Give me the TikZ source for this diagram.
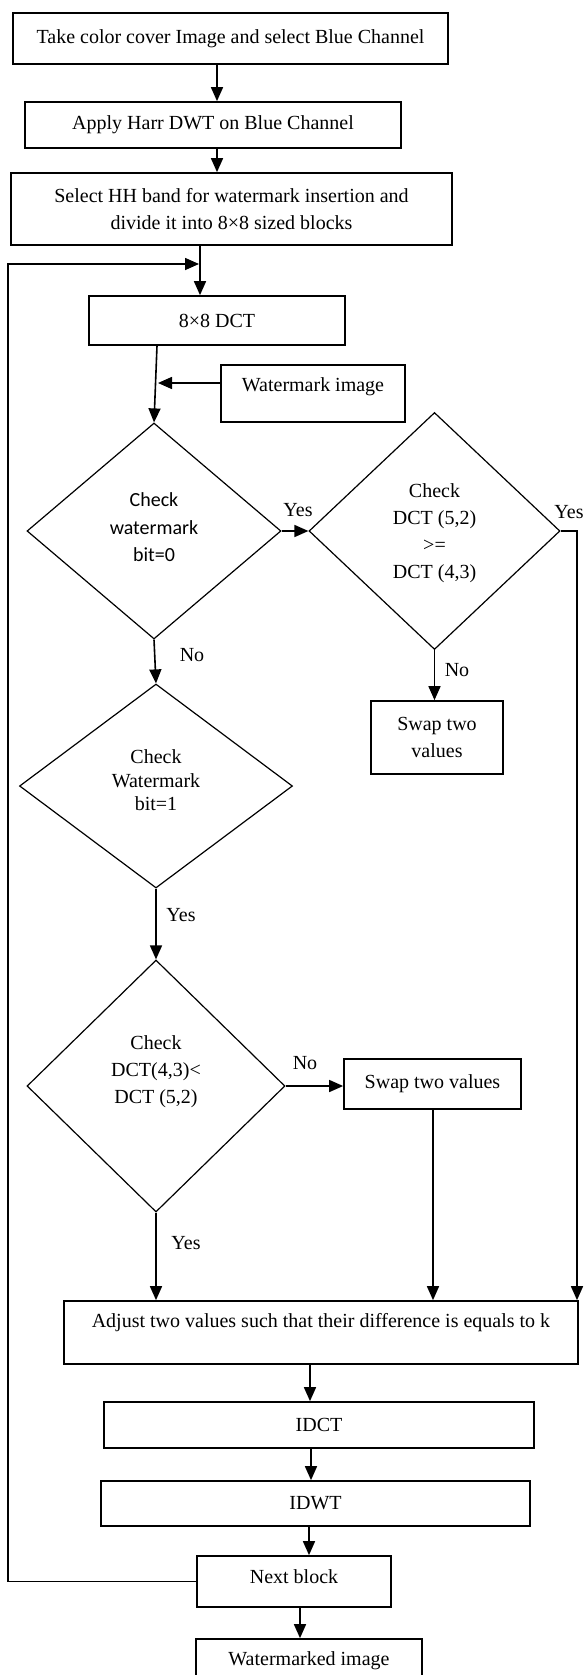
\documentclass[tikz,border=0pt]{standalone}
\usepackage{fontspec}
\setmainfont{Liberation Serif}
\newfontfamily\calib{Carlito}
\usetikzlibrary{arrows.meta,shapes.geometric}
\begin{document}
\begin{tikzpicture}[x=1pt,y=-1pt,
  font=\fontsize{20}{27}\selectfont,
  box/.style={draw, line width=1.7pt, inner sep=0pt, align=center},
  dia/.style={draw, diamond, line width=1.2pt, inner sep=0pt},
  txt/.style={inner sep=0pt, align=center},
  arr/.style={line width=1.6pt, -{Triangle[length=14pt,width=12pt]}},
  lab/.style={inner sep=0pt}]
\useasboundingbox (0,0) rectangle (584,1675);
\clip (0,0) rectangle (584,1675);

% boxes
\node[box, minimum width=435pt, minimum height=51pt] (b1) at (230.5,38.5) {Take color cover Image and select Blue Channel};
\node[box, minimum width=376pt, minimum height=46pt] (b2) at (213,125) {Apply Harr DWT on Blue Channel};
\node[box, minimum width=441pt, minimum height=72pt] (b3) at (231.5,209) {Select HH band for watermark insertion and\\divide it into 8×8 sized blocks};
\node[box, minimum width=256pt, minimum height=49pt] (dct) at (217,320.5) {8×8 DCT};
\node[box, minimum width=184pt, minimum height=57pt] (wm) at (313,393.5) {};
\node[txt] (wmt) at (313,387) {Watermark image};

% diamonds
\node[dia, minimum width=254pt, minimum height=216pt] (d1) at (154,531) {};
\node[txt, font=\calib\fontsize{20}{27.5}\selectfont] (d1t) at (154,527.5) {Check\\watermark\\bit=0};
\node[dia, minimum width=251pt, minimum height=237pt] (d2) at (434.5,531) {};
\node[txt] (d2t) at (434.5,533) {Check\\DCT (5,2)\\>=\\DCT (4,3)};
\node[dia, minimum width=273pt, minimum height=204pt] (d3) at (156,786) {};
\node[txt, font=\fontsize{20}{23.5}\selectfont] (d3t) at (156,780.5) {Check\\Watermark\\bit=1};
\node[dia, minimum width=258pt, minimum height=252pt] (d4) at (156,1086) {};
\node[txt] (d4t) at (156,1072) {Check\\DCT(4,3)<\\DCT (5,2)};

\node[box, minimum width=132pt, minimum height=73pt] (s1) at (437,737.5) {Swap two\\values};
\node[box, minimum width=177pt, minimum height=50pt] (s2) at (432.5,1084) {Swap two values};
\node[box, minimum width=514pt, minimum height=63pt] (adj) at (321,1332.5) {};
\node[txt] (adjt) at (321,1323) {Adjust two values such that their difference is equals to k};
\node[box, minimum width=430pt, minimum height=46pt] (idct) at (319,1425) {IDCT};
\node[box, minimum width=429pt, minimum height=45pt] (idwt) at (315.5,1503.5) {IDWT};
\node[box, minimum width=194pt, minimum height=51pt] (nb) at (294,1581.5) {};
\node[txt] (nbt) at (294,1577) {Next block};
\node[box, minimum width=226pt, minimum height=60pt] (wmd) at (309,1669) {};
\node[txt] (wmdt) at (309,1661) {Watermarked image};

% helper coordinates
\coordinate (c217) at (217,0);
\coordinate (c200) at (200,0);
\coordinate (c157) at (157,0);
\coordinate (c433) at (433,0);
\coordinate (c310) at (310,0);
\coordinate (c311) at (311,0);
\coordinate (c309) at (309,0);
\coordinate (c300) at (300,0);
\coordinate (rx) at (577,0);
\coordinate (lpx) at (8,264);
\coordinate (lpend) at (199,264);
\coordinate (wmj) at (158,383);

% connectors
\draw[arr] (c217 |- b1.south) -- (c217 |- b2.north);
\draw[arr] (c217 |- b2.south) -- (c217 |- b3.north);
\draw[arr] (c200 |- b3.south) -- (c200 |- dct.north);
\draw[arr] (nb.west) -- (lpx |- nb.west) -- (lpx) -- (lpend);
\draw[arr] (c157 |- dct.south) -- (d1.north);
\draw[arr] (wm.west |- wmj) -- (wmj);
\draw[arr] (d1.east) -- (d2.west);
\draw[arr] (d2.east) -- (rx |- d2.east) -- (rx |- adj.north);
\draw[arr] (d2.south) -- (d2.south |- s1.north);
\draw[arr] (d1.south) -- (d3.north);
\draw[arr] (d3.south) -- (d4.north);
\draw[arr] (d4.east) -- (d4.east -| s2.west);
\draw[arr] (d4.south) -- (d4.south |- adj.north);
\draw[arr] (c433 |- s2.south) -- (c433 |- adj.north);
\draw[arr] (c310 |- adj.south) -- (c310 |- idct.north);
\draw[arr] (c311 |- idct.south) -- (c311 |- idwt.north);
\draw[arr] (c309 |- idwt.south) -- (c309 |- nb.north);
\draw[arr] (c300 |- nb.south) -- (c300 |- wmd.north);

% labels
\node[lab] (l1) at (298,510) {Yes};
\node[lab] (l2) at (569,512) {Yes};
\node[lab] (l3) at (457,670) {No};
\node[lab] (l4) at (192,655) {No};
\node[lab] (l5) at (181,915) {Yes};
\node[lab] (l6) at (305,1063) {No};
\node[lab] (l7) at (186,1243) {Yes};
\end{tikzpicture}
\end{document}
